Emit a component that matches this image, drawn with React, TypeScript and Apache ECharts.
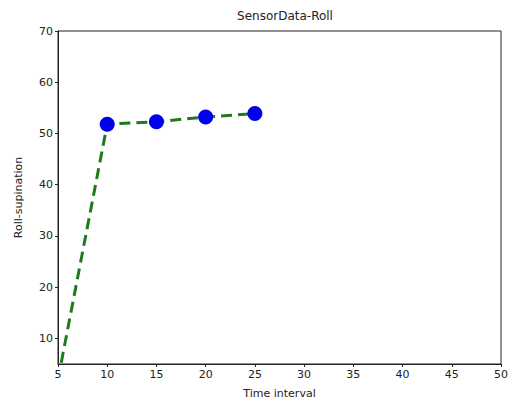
import React, { useEffect, useRef } from "react";
import * as echarts from "echarts";

const timeInterval = [5, 10, 15, 20, 25];
const rollSupination = [2, 51.8, 52.3, 53.2, 53.9];
const xTicks = [5, 10, 15, 20, 25, 30, 35, 40, 45, 50];
const yTicks = [10, 20, 30, 40, 50, 60, 70];

const FONT = "DejaVu Sans";

export default function App() {
  const ref = useRef<HTMLDivElement>(null);
  useEffect(() => {
    if (!ref.current) return;
    const chart = echarts.init(ref.current, undefined, { renderer: "svg" });
    chart.setOption({
      animation: false,
      backgroundColor: "#ffffff",
      title: {
        text: "SensorData-Roll",
        left: 280,
        textAlign: "center",
        top: 5,
        textStyle: { fontFamily: FONT, fontSize: 12, fontWeight: "normal", color: "#222" },
      },
      grid: {
        left: 58,
        right: 14,
        top: 31,
        bottom: 40,
        show: true,
        borderColor: "#222",
        borderWidth: 1,
        backgroundColor: "#fff",
      },
      xAxis: {
        type: "value",
        min: 5,
        max: 50,
        interval: 5,
        name: "Time interval",
        nameLocation: "middle",
        nameGap: 24,
        nameTextStyle: { fontFamily: FONT, fontSize: 11, color: "#222" },
        axisLine: { show: true, lineStyle: { color: "#222", width: 1 } },
        axisTick: { show: true, inside: false, length: 3, lineStyle: { color: "#222" }, customValues: xTicks },
        axisLabel: { fontFamily: FONT, fontSize: 11, color: "#222", margin: 5, customValues: xTicks },
        splitLine: { show: false },
      },
      yAxis: {
        type: "value",
        min: 5,
        max: 70,
        name: "Roll-supination",
        nameLocation: "middle",
        nameGap: 34,
        nameTextStyle: { fontFamily: FONT, fontSize: 11, color: "#222" },
        axisLine: { show: true, lineStyle: { color: "#222", width: 1 } },
        axisTick: { show: true, inside: false, length: 3, lineStyle: { color: "#222" }, customValues: yTicks },
        axisLabel: { fontFamily: FONT, fontSize: 11, color: "#222", margin: 5, customValues: yTicks },
        splitLine: { show: false },
      },
      series: [
        {
          type: "line",
          data: timeInterval.map((x, i) => [x, rollSupination[i]]),
          clip: true,
          symbol: "circle",
          symbolSize: 15,
          showAllSymbol: true,
          itemStyle: { color: "#0000ee", borderColor: "#0000ee", borderWidth: 0 },
          lineStyle: { color: "#1f7a1f", width: 3, type: [11, 6] },
        },
      ],
    });
    return () => chart.dispose();
  }, []);
  return <div ref={ref} style={{ width: 515, height: 404, position: "absolute", left: 0, top: 0 }} />;
}
